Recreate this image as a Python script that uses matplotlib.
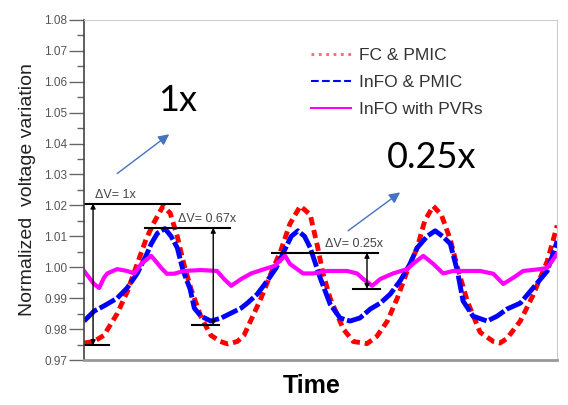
import matplotlib.pyplot as plt
from matplotlib.lines import Line2D

# time axis (arbitrary units, 0-100 across the plot)
t_fc = [0, 2.1, 4.2, 7.0, 9.1, 11.2, 13.1, 14.6, 16.7, 18.2, 19.7, 21.1, 22.6, 24.7,
        26.8, 28.8, 30.4, 32.4, 33.8, 35.3, 37.4, 39.5, 41.6, 43.5, 45.7, 47.8, 49.3,
        50.5, 52.0, 54.8, 56.9, 59.8, 61.9, 64.1, 66.2, 68.3, 70.4, 72.0, 73.8, 75.5,
        77.4, 78.9, 81.0, 83.7, 86.5, 87.9, 89.4, 92.2, 94.9, 97.9, 100]
v_fc = [0.9755, 0.976, 0.978, 0.985, 0.992, 1.001, 1.009, 1.014, 1.0198, 1.0175, 1.010,
        1.001, 0.993, 0.984, 0.978, 0.976, 0.9752, 0.976, 0.978, 0.983, 0.990, 0.998,
        1.0055, 1.014, 1.0198, 1.017, 1.007, 0.998, 0.990, 0.980, 0.976, 0.9753, 0.9777,
        0.9826, 0.990, 0.9988, 1.0063, 1.015, 1.0198, 1.017, 1.009, 1.000, 0.989, 0.979,
        0.976, 0.9755, 0.977, 0.9826, 0.991, 1.002, 1.0135]

t_info = [0, 2.1, 4.2, 7.0, 9.1, 11.2, 13.3, 14.2, 15.5, 17.1, 18.4, 19.7, 20.9, 22.4,
          23.3, 24.7, 26.8, 29.0, 31.1, 33.2, 34.5, 36.6, 38.7, 40.6, 42.3, 43.8, 45.2,
          46.6, 47.8, 49.9, 52.0, 54.1, 56.2, 58.3, 60.5, 62.6, 64.7, 66.8, 68.9, 70.4,
          72.5, 74.2, 75.8, 77.4, 78.9, 80.1, 82.2, 85.2, 87.3, 89.4, 92.2, 94.9, 97.9, 100]
v_info = [0.9826, 0.9858, 0.9875, 0.990, 0.9933, 0.9979, 1.0044, 1.0076, 1.011, 1.0125,
          1.010, 1.0063, 0.999, 0.993, 0.9868, 0.9842, 0.9826, 0.9836, 0.9852, 0.9868,
          0.9884, 0.9913, 0.9956, 0.9998, 1.0053, 1.010, 1.0118, 1.010, 1.0063, 0.9966,
          0.9881, 0.9836, 0.9826, 0.9836, 0.9865, 0.9884, 0.9913, 0.9956, 1.0011, 1.0063,
          1.010, 1.0118, 1.010, 1.0076, 0.9988, 0.9891, 0.9842, 0.9826, 0.9842, 0.9865,
          0.9884, 0.9933, 0.9988, 1.0085]

t_pvr = [0, 2.1, 3.2, 4.2, 4.9, 7.0, 9.1, 10.6, 12.1, 14.2, 16.3, 17.5, 19.0, 21.1, 24.7,
         28.1, 29.6, 31.1, 33.2, 35.3, 38.1, 40.2, 42.5, 43.5, 46.3, 48.4, 51.4, 55.6,
         57.7, 59.0, 60.9, 62.6, 65.3, 68.3, 69.5, 71.7, 73.8, 75.9, 78.0, 83.7, 86.5,
         88.6, 90.7, 92.8, 96.4, 97.9, 100]
v_pvr = [0.9988, 0.9946, 0.9933, 0.9966, 0.998, 0.9994, 0.9988, 0.998, 1.0011, 1.0037,
         0.9998, 0.9979, 0.9979, 0.9988, 0.9991, 0.9988, 0.9962, 0.994, 0.9962, 0.998,
         0.9994, 1.0004, 1.0037, 1.0011, 0.998, 0.998, 0.9988, 0.9988, 0.998, 0.9962,
         0.994, 0.9962, 0.998, 0.9994, 1.0011, 1.0037, 1.0011, 0.998, 0.9988, 0.9988,
         0.9979, 0.9946, 0.9966, 0.9988, 0.9994, 0.9998, 1.0044]

labels = ['FC & PMIC', 'InFO & PMIC', 'InFO with PVRs']

# delta-V markers
dv_text = ['ΔV= 1x', 'ΔV= 0.67x', 'ΔV= 0.25x']
dv_top = [1.0206, 1.0128, 1.0047]
dv_bot = [0.9748, 0.9813, 0.993]
dv_x = [1.9, 27.3, 59.8]
dv_top_span = [(0, 20.3), (12.9, 30.9), (39.7, 62.2)]
dv_bot_span = [(0, 5.3), (22.8, 28.5), (56.9, 62.6)]
dv_text_pos = [(2.3, 1.0214), (19.9, 1.0136), (50.9, 1.0055)]

fig = plt.figure(figsize=(5.68, 4.05), dpi=100)
ax = fig.add_axes([0.148, 0.111, 0.833, 0.84])

ax.plot(t_fc, v_fc, color='#ff0000', lw=3.5, dashes=(1.7, 1.0))
ax.plot(t_info, v_info, color='#0000ff', lw=3.5, dashes=(3.6, 0.6))
ax.plot(t_pvr, v_pvr, color='#ff00ff', lw=3)

ax.set_xlim(0, 100)
ax.set_ylim(0.97, 1.08)
ax.set_xticks([])
ax.set_yticks([0.97 + 0.01 * i for i in range(12)])
ax.set_yticks([0.975 + 0.01 * i for i in range(11)], minor=True)
ax.set_yticklabels(['%.2f' % (0.97 + 0.01 * i) for i in range(12)],
                   fontsize=8.5, color='#555555', family='Liberation Sans')
ax.tick_params(axis='y', which='major', length=11, width=1, color='#666666', pad=1)
ax.tick_params(axis='y', which='minor', length=5, width=1, color='#666666')

ax.spines['left'].set_color('#444444')
ax.spines['left'].set_linewidth(1.2)
ax.spines['bottom'].set_color('#999999')
ax.spines['bottom'].set_linewidth(2)
ax.spines['top'].set_color('#cccccc')
ax.spines['right'].set_color('#cccccc')

ax.set_ylabel('Normalized  voltage variation', fontsize=14, color='#222222',
              family='Liberation Sans', labelpad=6)
fig.text(0.548, 0.047, 'Time', fontsize=18, fontweight='bold', ha='center',
         va='center', family='Liberation Sans')

# delta-V brackets
for i in range(3):
    ax.plot(dv_top_span[i], [dv_top[i], dv_top[i]], color='black', lw=1.5)
    ax.plot(dv_bot_span[i], [dv_bot[i], dv_bot[i]], color='black', lw=1.5)
    ax.annotate('', xy=(dv_x[i], dv_bot[i]), xytext=(dv_x[i], dv_top[i]),
                arrowprops=dict(arrowstyle='<|-|>', color='black', lw=1,
                                mutation_scale=7, shrinkA=0, shrinkB=0))
    ax.text(dv_text_pos[i][0], dv_text_pos[i][1], dv_text[i], fontsize=9,
            color='#444444', family='Liberation Sans', va='bottom')

# blue pointer arrows and big ratio labels
ax.annotate('', xy=(18.0, 1.043), xytext=(7.0, 1.0303),
            arrowprops=dict(arrowstyle='-|>', color='#4472c4', lw=1,
                            mutation_scale=16, shrinkA=0, shrinkB=0))
ax.annotate('', xy=(66.8, 1.0242), xytext=(55.8, 1.0118),
            arrowprops=dict(arrowstyle='-|>', color='#4472c4', lw=1,
                            mutation_scale=16, shrinkA=0, shrinkB=0))
ax.text(15.6, 1.054, '1x', fontsize=26, family='Lato', va='center')
ax.text(64.1, 1.0355, '0.25x', fontsize=26, family='Lato', va='center')

handles = [Line2D([], [], color='#ff6666', lw=2, ls=':'),
           Line2D([], [], color='#0000ff', lw=1.5, ls='--'),
           Line2D([], [], color='#ff00ff', lw=1.5)]
fig.legend(handles, labels, loc='upper left', bbox_to_anchor=(0.52, 0.92),
           frameon=False, handlelength=2.3, handletextpad=0.45, labelspacing=0.68,
           labelcolor='#333333',
           prop={'family': 'Liberation Sans', 'size': 12.5})

plt.savefig('out.png', dpi=100)
